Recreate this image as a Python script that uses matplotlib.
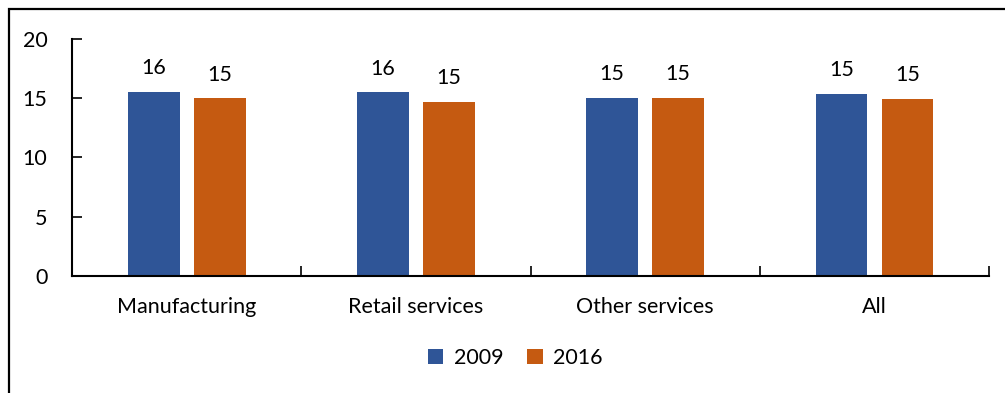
import matplotlib
matplotlib.use("Agg")
import matplotlib.pyplot as plt
import numpy as np
from matplotlib.patches import Rectangle

plt.rcParams['font.family'] = ['Lato', 'DejaVu Sans']

categories = ["Manufacturing", "Retail services", "Other services", "All"]
series_names = ["2009", "2016"]
values_2009 = [15.52, 15.5, 15.06, 15.35]
values_2016 = [15.0, 14.67, 15.07, 14.95]
yticks = [0, 5, 10, 15, 20]

colors = ["#2F5597", "#C55A11"]
FS = 15.5

fig = plt.figure(figsize=(10.05, 3.93), dpi=100)
ax = fig.add_axes([0.0719, 0.2985, 0.9121, 0.6015])

x = np.arange(len(categories))
width = 0.225
offset = 0.144
for vals, name, col, sgn in zip([values_2009, values_2016], series_names, colors, [-1, 1]):
    bars = ax.bar(x + sgn * offset, vals, width, color=col, label=name)
    for b, v in zip(bars, vals):
        ax.annotate(f"{int(np.floor(v + 0.5))}", (b.get_x() + b.get_width() / 2, v),
                    xytext=(0, 10), textcoords="offset points",
                    ha="center", va="bottom", fontsize=FS)

ax.set_xlim(-0.5, len(categories) - 0.5)
ax.set_ylim(0, 20)
ax.set_yticks(yticks)
ax.set_yticklabels([str(t) for t in yticks], fontsize=FS)
ax.tick_params(axis="y", direction="in", length=7, width=1.2, pad=18)

ax.set_xticks(x)
ax.set_xticklabels(categories, fontsize=FS)
ax.tick_params(axis="x", length=0, pad=15)
ax.set_xticks(np.arange(len(categories) + 1) - 0.5, minor=True)
ax.tick_params(axis="x", which="minor", direction="in", length=7, width=1.2)

for s in ["top", "right"]:
    ax.spines[s].set_visible(False)
for s in ["left", "bottom"]:
    ax.spines[s].set_linewidth(1.5)

leg = fig.legend(loc="center", bbox_to_anchor=(0.513, 0.089), ncol=2, frameon=False,
                 fontsize=FS, handlelength=0.7, handleheight=0.7,
                 handletextpad=0.5, columnspacing=1.1)

# outer frame (top and left edges visible)
fig.patches.append(Rectangle((9 / 1005, -0.1), 1.2, 1 - 9 / 393 + 0.1,
                             transform=fig.transFigure, fill=False,
                             edgecolor="black", linewidth=1.6))

fig.savefig("out.png", dpi=100)
